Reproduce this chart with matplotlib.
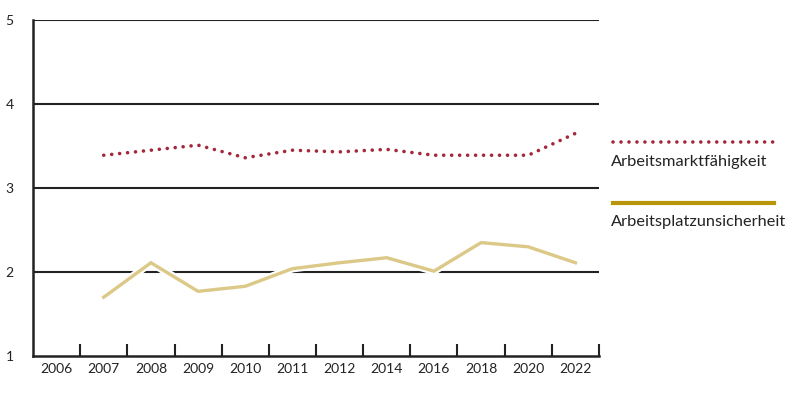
import numpy as np
import matplotlib
matplotlib.use("Agg")
import matplotlib.pyplot as plt
from matplotlib.lines import Line2D
import matplotlib.patheffects as pe

plt.rcParams["font.family"] = ["Lato", "DejaVu Sans"]

# data
years = ["2006", "2007", "2008", "2009", "2010", "2011", "2012", "2014", "2016", "2018", "2020", "2022"]
markt_years = ["2007", "2008", "2009", "2010", "2011", "2012", "2014", "2016", "2018", "2020", "2022"]
arbeitsmarkt = [3.39, 3.45, 3.51, 3.36, 3.45, 3.43, 3.46, 3.39, 3.39, 3.39, 3.65]
unsicherheit = [1.70, 2.11, 1.77, 1.83, 2.04, 2.11, 2.17, 2.01, 2.35, 2.30, 2.11]
y_ticks = [1, 2, 3, 4, 5]

red = "#a3283a"
gold_line = "#dcc887"
gold_legend = "#b8960c"

fig = plt.figure(figsize=(8, 3.95), dpi=100)
ax = fig.add_axes([0.04125, 0.0987, 0.7075, 0.8507])

xpos = {y: i for i, y in enumerate(years)}
xs = [xpos[y] for y in markt_years]

# horizontal grid lines
for v in y_ticks[1:]:
    ax.axhline(v, color="#222222", lw=1.5, zorder=1)

ax.plot(xs, unsicherheit, color=gold_line, lw=2.4, solid_joinstyle="miter", zorder=3,
        path_effects=[pe.Stroke(linewidth=5.5, foreground="white"), pe.Normal()])
ax.plot(xs, arbeitsmarkt, color=red, lw=2.6, linestyle=(0, (0.01, 2.2)),
        dash_capstyle="round", zorder=4)

ax.set_xlim(-0.5, len(years) - 0.5)
ax.set_ylim(1, 5)
ax.set_yticks(y_ticks)
ax.set_xticks(range(len(years)))
ax.set_xticklabels(years)
ax.set_xticks(np.arange(0.5, len(years), 1), minor=True)

for s in ["top", "right"]:
    ax.spines[s].set_visible(False)
for s in ["left", "bottom"]:
    ax.spines[s].set_linewidth(1.8)
    ax.spines[s].set_color("#222222")

ax.tick_params(axis="x", which="major", length=0, pad=5, labelsize=10, colors="#222222")
ax.tick_params(axis="x", which="minor", direction="in", length=9, width=1.5, color="#222222")
ax.tick_params(axis="y", length=0, pad=14, labelsize=10, colors="#222222")

# legend on the right
fig.add_artist(Line2D([0.766, 0.967], [0.640, 0.640], color=red, lw=2.6,
                      linestyle=(0, (0.01, 2.2)), dash_capstyle="round"))
fig.text(0.764, 0.590, "Arbeitsmarktfähigkeit", fontsize=11.8, color="#222222", va="center")
fig.add_artist(Line2D([0.766, 0.967], [0.486, 0.486], color=gold_legend, lw=3))
fig.text(0.764, 0.437, "Arbeitsplatzunsicherheit", fontsize=11.8, color="#222222", va="center")

fig.savefig("out.png", dpi=100)
